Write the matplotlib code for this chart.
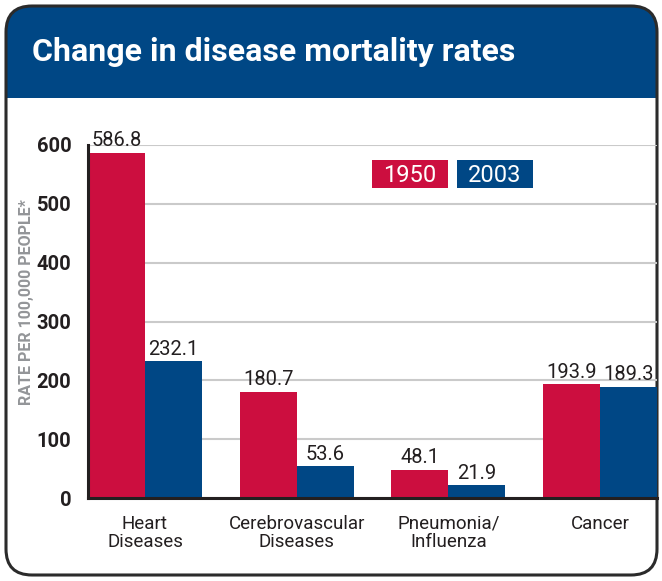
import matplotlib.pyplot as plt
import numpy as np
from matplotlib.patches import FancyBboxPatch, Rectangle

categories = ['Heart\nDiseases', 'Cerebrovascular\nDiseases', 'Pneumonia/\nInfluenza', 'Cancer']
rate_1950 = [586.8, 180.7, 48.1, 193.9]
rate_2003 = [232.1, 53.6, 21.9, 189.3]
years = ['1950', '2003']
yticks = [0, 100, 200, 300, 400, 500, 600]

RED = '#cc0e3f'
BLUE = '#004785'
INK = '#231f20'

plt.rcParams['font.family'] = ['Roboto', 'DejaVu Sans']

W, H = 662, 581
fig = plt.figure(figsize=(W / 100, H / 100), dpi=100)

# background card in pixel coords
bg = fig.add_axes([0, 0, 1, 1], zorder=0)
bg.set_xlim(0, W)
bg.set_ylim(H, 0)
bg.axis('off')
card = dict(boxstyle='round,pad=0,rounding_size=26')
band = FancyBboxPatch((6, 6), 651, 569, fc=BLUE, ec='none', **card)
bg.add_patch(band)
band.set_clip_path(Rectangle((0, 0), W, 98, transform=bg.transData))
bg.add_patch(FancyBboxPatch((6, 6), 651, 569, fc='none', ec='#2b2b2b', lw=2.2, zorder=5, **card))
bg.text(32, 52, 'Change in disease mortality rates', color='white', fontsize=23,
        fontweight='bold', va='center', ha='left')
bg.text(27, 302, 'RATE PER 100,000 PEOPLE*', color='#939598', fontsize=11.5,
        fontweight='bold', rotation=90, va='center', ha='center')

# legend boxes
for x0, lab, col in [(372, years[0], RED), (457, years[1], BLUE)]:
    bg.add_patch(Rectangle((x0, 160), 76, 28, fc=col, ec='none'))
    bg.text(x0 + 38, 175, lab, color='white', fontsize=17, ha='center', va='center')

# bar chart
ax = fig.add_axes([88 / W, 1 - 498 / H, 569 / W, (498 - 145) / H], zorder=1)
ax.patch.set_alpha(0)
w = 0.3757
x = np.arange(len(categories))
b1 = ax.bar(x - w / 2, rate_1950, w, color=RED, zorder=2)
b2 = ax.bar(x + w / 2, rate_2003, w, color=BLUE, zorder=2)
for bars in (b1, b2):
    for r in bars:
        ax.text(r.get_x() + r.get_width() / 2, r.get_height() + 4, f'{r.get_height():.1f}',
                ha='center', va='bottom', fontsize=14.5, color=INK, zorder=3, clip_on=False)

ax.set_xlim(-w, len(categories) - 1 + w)
ax.set_ylim(0, 600)
ax.set_yticks(yticks)
ax.set_yticklabels([str(t) for t in yticks], fontweight='bold', fontsize=14.5, color=INK)
ax.tick_params(axis='y', length=0, pad=12)
ax.set_xticks(x)
ax.set_xticklabels(categories, fontsize=13.5, color=INK, linespacing=1.05)
ax.tick_params(axis='x', length=0, pad=12)
ax.yaxis.grid(True, color='#cacaca', lw=1.5, zorder=0)
ax.set_axisbelow(True)
for s in ('top', 'right'):
    ax.spines[s].set_visible(False)
for s in ('left', 'bottom'):
    ax.spines[s].set_linewidth(2.2)
    ax.spines[s].set_color(INK)
    ax.spines[s].set_zorder(4)

fig.savefig('out.png', dpi=100)
